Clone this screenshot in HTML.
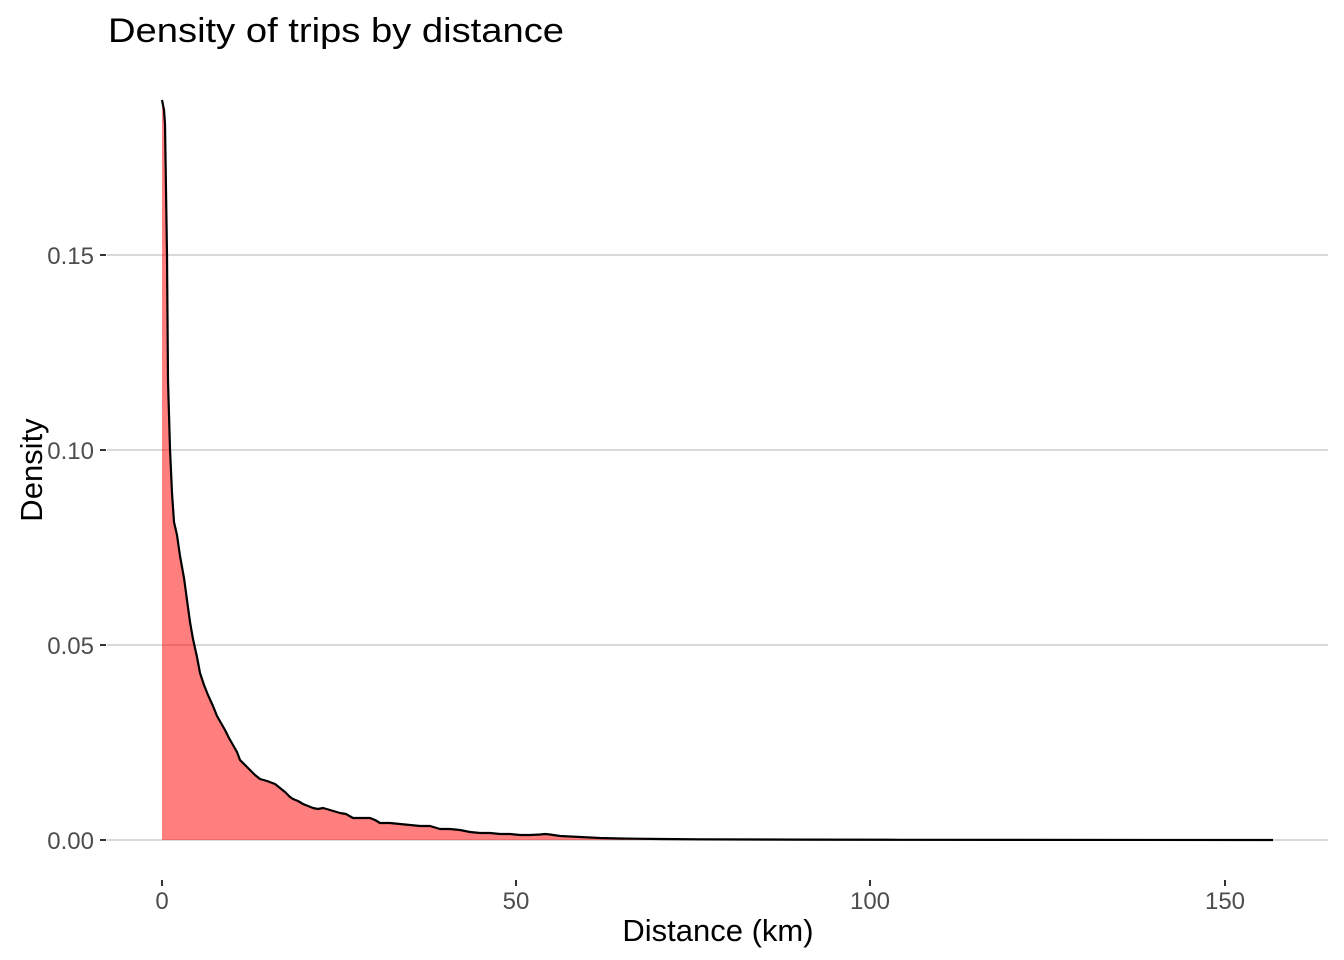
<!DOCTYPE html>
<html><head><meta charset="utf-8"><style>
html,body{margin:0;padding:0;background:#fff;}
svg{display:block;font-family:"Liberation Sans",Arial,sans-serif;}
</style></head><body>
<svg width="1344" height="960" viewBox="0 0 1344 960" xmlns="http://www.w3.org/2000/svg">
<rect width="1344" height="960" fill="#fff"/>
<g stroke="#d9d9d9" stroke-width="2">
<line x1="107" y1="255" x2="1328" y2="255"/>
<line x1="107" y1="450" x2="1328" y2="450"/>
<line x1="107" y1="645" x2="1328" y2="645"/>
<line x1="107" y1="840" x2="1328" y2="840"/>
</g>
<path d="M162,840 L162,100 L164,110 L165,124 L167,255 L168,380 L170,449 L172,493 L174,522 L177,535 L180,556 L184,578 L187,600 L190,622 L193,639 L197,657 L200,673 L204,685 L208,695 L213,706 L217,716 L221,723 L225,730 L229,738 L233,745 L237,752 L240,760 L245,765 L250,770 L255,775 L260,779 L267,781 L275,784 L280,788 L285,792 L290,797 L293,799 L298,801 L303,804 L308,806 L313,808 L318,809 L323,808 L330,810 L340,813 L346,814 L353,818 L360,818 L370,818 L375,820 L380,823 L390,823 L400,824 L410,825 L420,826 L430,826 L440,829 L450,829 L460,830 L470,832 L480,833 L490,833 L500,834 L510,834 L520,835 L530,835 L540,834.5 L545,834 L550,834.5 L560,836 L570,836.5 L580,837 L600,838 L620,838.5 L660,839 L700,839.3 L800,839.6 L900,839.8 L1273,840 Z" fill="#ff0000" fill-opacity="0.5" stroke="none"/>
<path d="M162,100 L164,110 L165,124 L167,255 L168,380 L170,449 L172,493 L174,522 L177,535 L180,556 L184,578 L187,600 L190,622 L193,639 L197,657 L200,673 L204,685 L208,695 L213,706 L217,716 L221,723 L225,730 L229,738 L233,745 L237,752 L240,760 L245,765 L250,770 L255,775 L260,779 L267,781 L275,784 L280,788 L285,792 L290,797 L293,799 L298,801 L303,804 L308,806 L313,808 L318,809 L323,808 L330,810 L340,813 L346,814 L353,818 L360,818 L370,818 L375,820 L380,823 L390,823 L400,824 L410,825 L420,826 L430,826 L440,829 L450,829 L460,830 L470,832 L480,833 L490,833 L500,834 L510,834 L520,835 L530,835 L540,834.5 L545,834 L550,834.5 L560,836 L570,836.5 L580,837 L600,838 L620,838.5 L660,839 L700,839.3 L800,839.6 L900,839.8 L1273,840" fill="none" stroke="#000" stroke-width="2.2" stroke-linejoin="round"/>
<g stroke="#333" stroke-width="2">
<line x1="100" y1="255" x2="106" y2="255"/>
<line x1="100" y1="450" x2="106" y2="450"/>
<line x1="100" y1="645" x2="106" y2="645"/>
<line x1="100" y1="840" x2="106" y2="840"/>
<line x1="162" y1="880" x2="162" y2="886"/>
<line x1="516" y1="880" x2="516" y2="886"/>
<line x1="870" y1="880" x2="870" y2="886"/>
<line x1="1225" y1="880" x2="1225" y2="886"/>
</g>
<g fill="#4d4d4d" font-size="24" text-anchor="end">
<text x="94" y="264">0.15</text>
<text x="94" y="459">0.10</text>
<text x="94" y="654">0.05</text>
<text x="94" y="849">0.00</text>
</g>
<g fill="#4d4d4d" font-size="24" text-anchor="middle">
<text x="162" y="909">0</text>
<text x="516" y="909">50</text>
<text x="870" y="909">100</text>
<text x="1225" y="909">150</text>
</g>
<text x="718" y="941" font-size="31" text-anchor="middle" fill="#000">Distance (km)</text>
<text transform="translate(42,470) rotate(-90)" font-size="31" text-anchor="middle" fill="#000">Density</text>
<text x="108" y="42" font-size="34" fill="#000" textLength="456" lengthAdjust="spacingAndGlyphs">Density of trips by distance</text>
</svg>
</body></html>
